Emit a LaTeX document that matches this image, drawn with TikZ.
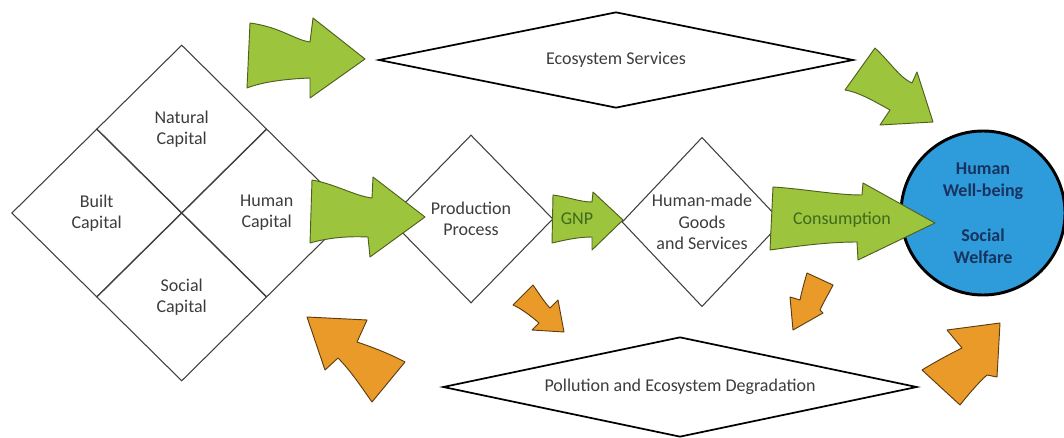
\documentclass[tikz,border=0pt]{standalone}
\usepackage{fontspec}
\setmainfont{Carlito}
\usetikzlibrary{shapes.geometric}
\definecolor{gfill}{HTML}{9CC43C}
\definecolor{gline}{HTML}{4F5F1E}
\definecolor{gtext}{HTML}{3E6A1C}
\definecolor{ofill}{HTML}{E99A28}
\definecolor{oline}{HTML}{5C3C12}
\definecolor{bfill}{HTML}{2E9BDB}
\definecolor{btext}{HTML}{18335E}
\definecolor{ltext}{HTML}{3C3C3C}
\begin{document}
\begin{tikzpicture}[x=0.75pt,y=-0.75pt,
  font=\fontsize{13.5}{16}\selectfont,
  dbox/.style={diamond, draw=black!75, line width=0.8pt, inner sep=0pt, align=center, text=ltext},
  flat/.style={diamond, shape aspect=5, draw=black, line width=1.3pt, inner sep=0pt, align=center, text=ltext},
  garrow/.style={fill=gfill, draw=gline, line width=0.7pt, line join=round},
  oarrow/.style={fill=ofill, draw=oline, line width=0.7pt, line join=round}]
\path[use as bounding box] (0,0) rectangle (1064,438);

% capital diamonds
\node[dbox, minimum width=127.5pt, minimum height=126pt] (natural) at (181.7,129) {Natural\\Capital};
\node[dbox, minimum width=127.5pt, minimum height=126pt] (built) at (96.7,213) {Built\\Capital};
\node[dbox, minimum width=127.5pt, minimum height=126pt] (human) at (266.7,213) {Human\\Capital};
\node[dbox, minimum width=127.5pt, minimum height=126pt] (social) at (181.7,297) {Social\\Capital};

% process diamonds
\node[dbox, minimum width=123pt, minimum height=126pt] (prod) at (471,219) {Production\\Process};
\node[dbox, minimum width=120pt, minimum height=127pt] (goods) at (702,222) {Human-made\\Goods\\and Services};

% flat diamonds
\node[flat, minimum width=356pt, minimum height=72pt] (eco) at (616,60) {Ecosystem Services};
\node[flat, minimum width=355.5pt, minimum height=75pt] (poll) at (680,387) {Pollution and Ecosystem Degradation};

% well-being circle
\node[circle, fill=bfill, draw=black, line width=2.2pt, minimum size=123pt, inner sep=0pt,
      align=center, text=btext, font=\fontsize{13.5}{16.5}\selectfont\bfseries] (well) at (983,213)
      {Human\\Well-being\\[17pt]Social\\Welfare};

% green arrows
\path[garrow] (250,23) .. controls (280,27) and (295,40) .. (310,42) -- (313,18) -- (365,59)
  -- (310,98) -- (310,78) .. controls (285,79) and (262,82) .. (247,88) -- cycle;
\path[garrow] (845,90) -- (875,48) .. controls (890,62) and (900,78) .. (912,83) -- (917,72)
  -- (933,122) -- (880,125) -- (890,110) .. controls (872,100) and (858,92) .. cycle;
\path[garrow] (312,180) .. controls (335,184) and (355,196) .. (372,198) -- (373,177) -- (425,217)
  -- (370,257) -- (368,237) .. controls (345,236) and (328,238) .. (310,243) -- cycle;
\path[garrow] (553,195) .. controls (568,197) and (580,202) .. (592,202) -- (593,192) -- (623,220)
  -- (592,250) -- (592,237) .. controls (578,237) and (565,240) .. (552,243) -- cycle;
\path[garrow] (773,187) .. controls (805,189) and (835,195) .. (862,195) -- (863,183) -- (935,223)
  -- (858,260) -- (857,242) .. controls (828,242) and (798,246) .. (770,250) -- cycle;
\node[text=gtext] (gnp) at (577,219) {GNP};
\node[text=gtext] (cons) at (842,220) {Consumption};

% orange arrows
\path[oarrow] (513,305) -- (533,285) .. controls (540,295) and (545,303) .. (550,308) -- (558,300)
  -- (564,332) -- (532,330) -- (539,323) .. controls (530,315) and (520,308) .. cycle;
\path[oarrow] (807,273) -- (833,285) .. controls (828,295) and (823,303) .. (820,310) -- (823,313)
  -- (793,330) -- (790,297) -- (800,300) .. controls (802,290) and (805,280) .. cycle;
\path[oarrow] (307,317) -- (367,320) -- (357,342) .. controls (375,348) and (392,355) .. (405,362)
  -- (372,402) .. controls (360,385) and (350,370) .. (338,358) -- (325,370) -- cycle;
\path[oarrow] (1000,323) -- (947,330) -- (962,348) .. controls (948,355) and (935,362) .. (922,370)
  -- (960,405) .. controls (968,395) and (978,383) .. (987,375) -- (997,377) -- cycle;
\end{tikzpicture}
\end{document}
